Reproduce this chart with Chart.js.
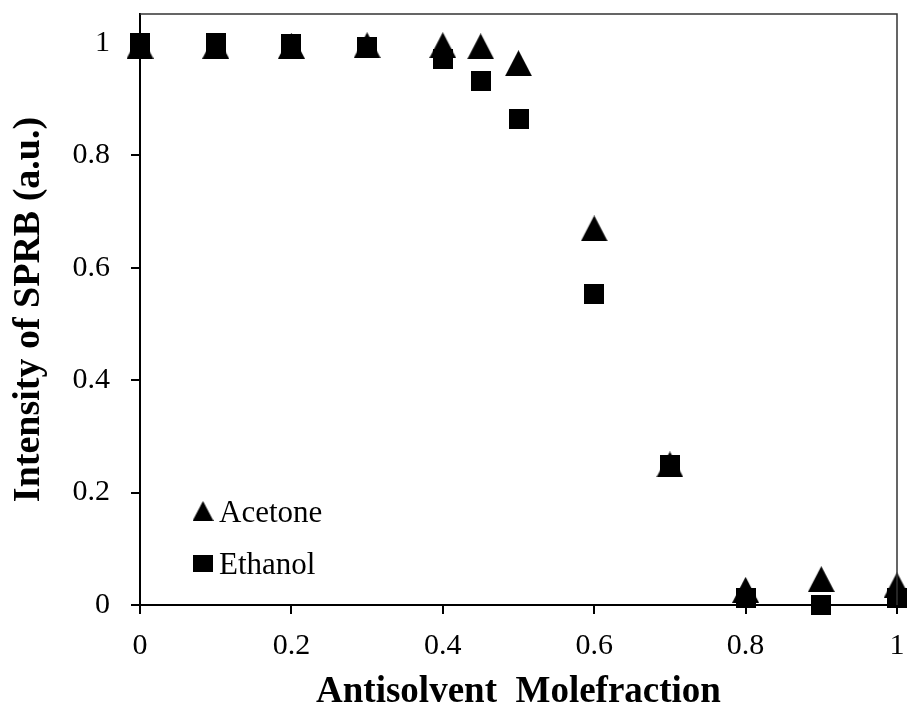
<!DOCTYPE html>
<html>
<head>
<meta charset="utf-8">
<script src="https://cdn.jsdelivr.net/npm/chart.js@4/dist/chart.umd.min.js"></script>
<style>
  html, body { margin: 0; padding: 0; background: #fff; }
  #sprb { display: block; }
</style>
</head>
<body>
<canvas id="sprb" width="907" height="711"></canvas>
<script>
const molefraction = [0, 0.1, 0.2, 0.3, 0.4, 0.45, 0.5, 0.6, 0.7, 0.8, 0.9, 1];
const acetone = [0.995, 0.995, 0.995, 0.996, 0.996, 0.994, 0.964, 0.670, 0.250, 0.027, 0.046, 0.035];
const ethanol = [1.000, 1.000, 0.999, 0.992, 0.971, 0.932, 0.864, 0.553, 0.249, 0.012, 0.000, 0.013];
const xTicks = [0, 0.2, 0.4, 0.6, 0.8, 1];
const yTicks = [0, 0.2, 0.4, 0.6, 0.8, 1];

const serif = '"Liberation Serif", "Times New Roman", serif';

// solid black marker shapes, drawn once and reused as point styles
function marker(shape, w, h) {
  const c = document.createElement('canvas');
  c.width = w;
  c.height = h;
  const ctx = c.getContext('2d');
  ctx.fillStyle = '#000';
  if (shape === 'triangle') {
    ctx.beginPath();
    ctx.moveTo(w / 2, 0);
    ctx.lineTo(w, h);
    ctx.lineTo(0, h);
    ctx.closePath();
    ctx.fill();
  } else {
    ctx.fillRect(0, 0, w, h);
  }
  return c;
}

const triangle = marker('triangle', 27, 26);
const square = marker('square', 20, 20);

function points(ys) {
  return molefraction.map((x, i) => ({ x: x, y: ys[i] }));
}

// keep edge tick labels from pushing the plot area inwards
function noOverhang(s) {
  s.paddingTop = 0;
  s.paddingBottom = 0;
  s.paddingLeft = 0;
  s.paddingRight = 0;
}

// top and right edges of the plot box
const frame = {
  id: 'frame',
  afterDatasetsDraw(chart) {
    const a = chart.chartArea;
    const ctx = chart.ctx;
    ctx.save();
    ctx.strokeStyle = '#333';
    ctx.lineWidth = 1.5;
    ctx.beginPath();
    ctx.moveTo(a.left, a.top);
    ctx.lineTo(a.right, a.top);
    ctx.lineTo(a.right, a.bottom);
    ctx.stroke();
    ctx.restore();
  }
};

// legend sitting inside the plot, lower left
const insideLegend = {
  id: 'insideLegend',
  afterDraw(chart) {
    const a = chart.chartArea;
    const ctx = chart.ctx;
    ctx.save();
    ctx.font = '31px ' + serif;
    ctx.fillStyle = '#000';
    ctx.textBaseline = 'alphabetic';
    chart.data.datasets.forEach((ds, i) => {
      const m = ds.legendMarker;
      const cx = a.left + 63;
      const cy = a.bottom - 94 + i * 52;
      ctx.drawImage(m, cx - m.width / 2, cy - m.height / 2);
      ctx.fillText(ds.label, a.left + 79, cy + 11);
    });
    ctx.restore();
  }
};

new Chart(document.getElementById('sprb'), {
  type: 'scatter',
  data: {
    datasets: [
      {
        label: 'Acetone',
        data: points(acetone),
        pointStyle: triangle,
        legendMarker: marker('triangle', 21, 20),
        backgroundColor: '#000',
        borderColor: '#000',
        clip: false
      },
      {
        label: 'Ethanol',
        data: points(ethanol),
        pointStyle: square,
        legendMarker: marker('square', 20, 17),
        backgroundColor: '#000',
        borderColor: '#000',
        clip: false
      }
    ]
  },
  options: {
    responsive: false,
    animation: false,
    layout: { padding: { top: 14, right: 10, left: 0, bottom: 0 } },
    plugins: {
      legend: { display: false },
      tooltip: { enabled: false }
    },
    scales: {
      x: {
        type: 'linear',
        min: 0,
        max: 1,
        afterBuildTicks: s => { s.ticks = xTicks.map(v => ({ value: v })); },
        afterFit: s => { s.height = 106; noOverhang(s); },
        border: { color: '#000', width: 2 },
        grid: { drawOnChartArea: false, color: '#000', lineWidth: 2, tickLength: 9 },
        ticks: {
          color: '#000',
          padding: 14,
          maxRotation: 0,
          font: { family: serif, size: 30 },
          callback: v => String(v)
        },
        title: {
          display: true,
          text: 'Antisolvent  Molefraction',
          color: '#000',
          font: { family: serif, size: 37, weight: 'bold', lineHeight: 1 },
          padding: { top: 0, bottom: 0 }
        }
      },
      y: {
        type: 'linear',
        min: 0,
        max: 1.0516,
        afterBuildTicks: s => { s.ticks = yTicks.map(v => ({ value: v })); },
        afterFit: s => { s.width = 140; noOverhang(s); },
        border: { color: '#000', width: 2 },
        grid: { drawOnChartArea: false, color: '#000', lineWidth: 2, tickLength: 9 },
        ticks: {
          color: '#000',
          padding: 21,
          font: { family: serif, size: 30 },
          callback: v => String(v)
        },
        title: {
          display: true,
          text: 'Intensity of SPRB (a.u.)',
          color: '#000',
          font: { family: serif, size: 38, weight: 'bold', lineHeight: 1 },
          padding: { top: 10, bottom: 0 }
        }
      }
    }
  },
  plugins: [frame, insideLegend]
});
</script>
</body>
</html>
